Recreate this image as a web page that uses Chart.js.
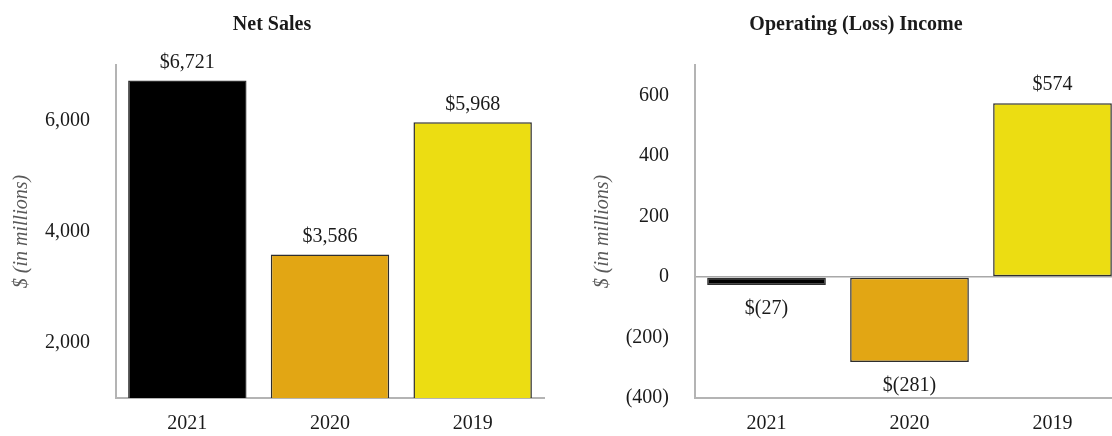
<!DOCTYPE html>
<html>
<head>
<meta charset="utf-8">
<script src="https://cdn.jsdelivr.net/npm/chart.js@4.4.1/dist/chart.umd.min.js"></script>
<style>
  html, body { margin: 0; padding: 0; background: #fff; overflow: hidden; width: 1112px; height: 436px; }
  .panel { position: absolute; top: 0; }
  .panel--sales { left: 0; }
  .panel--income { left: 588px; }
</style>
</head>
<body>
<div class="panel panel--sales"><canvas id="sales" width="560" height="436"></canvas></div>
<div class="panel panel--income"><canvas id="income" width="536" height="436"></canvas></div>
<script>
const years = [`2021`, `2020`, `2019`];
const netSales = [6721, 3586, 5968];
const operatingIncome = [-27, -281, 574];
const salesTicks = [2000, 4000, 6000];
const incomeTicks = [-400, -200, 0, 200, 400, 600];

const BAR_COLORS = [`#000000`, `#e2a614`, `#ecdd12`];
const FONT = `"Liberation Serif", "Times New Roman", serif`;
const TEXT = `#1a1a1a`;
const AXIS = `#b4b4b4`;

const money = (v) => v < 0
  ? `$(${Math.abs(v).toLocaleString(`en-US`)})`
  : `$${v.toLocaleString(`en-US`)}`;

// draws the value above (or below, when negative) each bar
const barLabels = {
  id: `barLabels`,
  afterDatasetsDraw(chart) {
    const {ctx} = chart;
    const meta = chart.getDatasetMeta(0);
    const data = chart.data.datasets[0].data;
    ctx.save();
    ctx.font = `20px ${FONT}`;
    ctx.fillStyle = TEXT;
    ctx.textAlign = `center`;
    ctx.textBaseline = `middle`;
    meta.data.forEach((bar, i) => {
      const val = data[i];
      const y = val < 0 ? bar.y + 24 : bar.y - 18;
      ctx.fillText(money(val), bar.x, y);
    });
    ctx.restore();
  }
};

const makeConfig = (title, values, ticks, opts) => ({
  type: `bar`,
  data: {
    labels: years,
    datasets: [{
      data: values,
      backgroundColor: BAR_COLORS,
      borderColor: `#2e2e2e`,
      borderWidth: 1.5,
      borderSkipped: false,
      categoryPercentage: 1,
      barPercentage: 0.83
    }]
  },
  options: {
    responsive: false,
    animation: false,
    layout: {padding: {left: 0, right: opts.padRight, top: 0, bottom: 0}},
    plugins: {
      legend: {display: false},
      tooltip: {enabled: false},
      title: {
        display: true,
        text: title,
        color: TEXT,
        font: {family: FONT, size: 20, weight: `bold`},
        padding: {top: 13, bottom: 28}
      }
    },
    scales: {
      x: {
        grid: {display: false, drawTicks: false},
        border: {color: AXIS, width: 2},
        ticks: {color: TEXT, font: {family: FONT, size: 20}, padding: 14},
        afterFit: (s) => { s.height = 35; }
      },
      y: {
        min: opts.min,
        max: opts.max,
        afterBuildTicks: (s) => { s.ticks = ticks.map((v) => ({value: v})); },
        afterFit: (s) => { s.width = opts.axisWidth; },
        grid: {
          display: opts.zeroLine,
          drawTicks: false,
          color: (c) => (c.tick && c.tick.value === 0 ? `#a8a8a8` : `rgba(0,0,0,0)`),
          lineWidth: 1.5
        },
        border: {color: AXIS, width: 2},
        ticks: {
          color: TEXT,
          font: {family: FONT, size: 20},
          padding: 26,
          callback: opts.tickFormat
        },
        title: {
          display: true,
          text: `$ (in millions)`,
          color: `#595959`,
          font: {family: FONT, size: 20, style: `italic`},
          padding: {top: opts.titlePad, bottom: 0}
        }
      }
    }
  },
  plugins: [barLabels]
});

const salesChart = new Chart(document.getElementById(`sales`), makeConfig(`Net Sales`, netSales, salesTicks, {
  min: 1000,
  max: 7000,
  axisWidth: 116,
  padRight: 16,
  zeroLine: false,
  titlePad: 10,
  tickFormat: (v) => v.toLocaleString(`en-US`)
}));

const incomeChart = new Chart(document.getElementById(`income`), makeConfig(`Operating (Loss) Income`, operatingIncome, incomeTicks, {
  min: -400,
  max: 700,
  axisWidth: 107,
  padRight: 0,
  zeroLine: true,
  titlePad: 3,
  tickFormat: (v) => (v < 0 ? `(${Math.abs(v)})` : `${v}`)
}));
</script>
</body>
</html>
